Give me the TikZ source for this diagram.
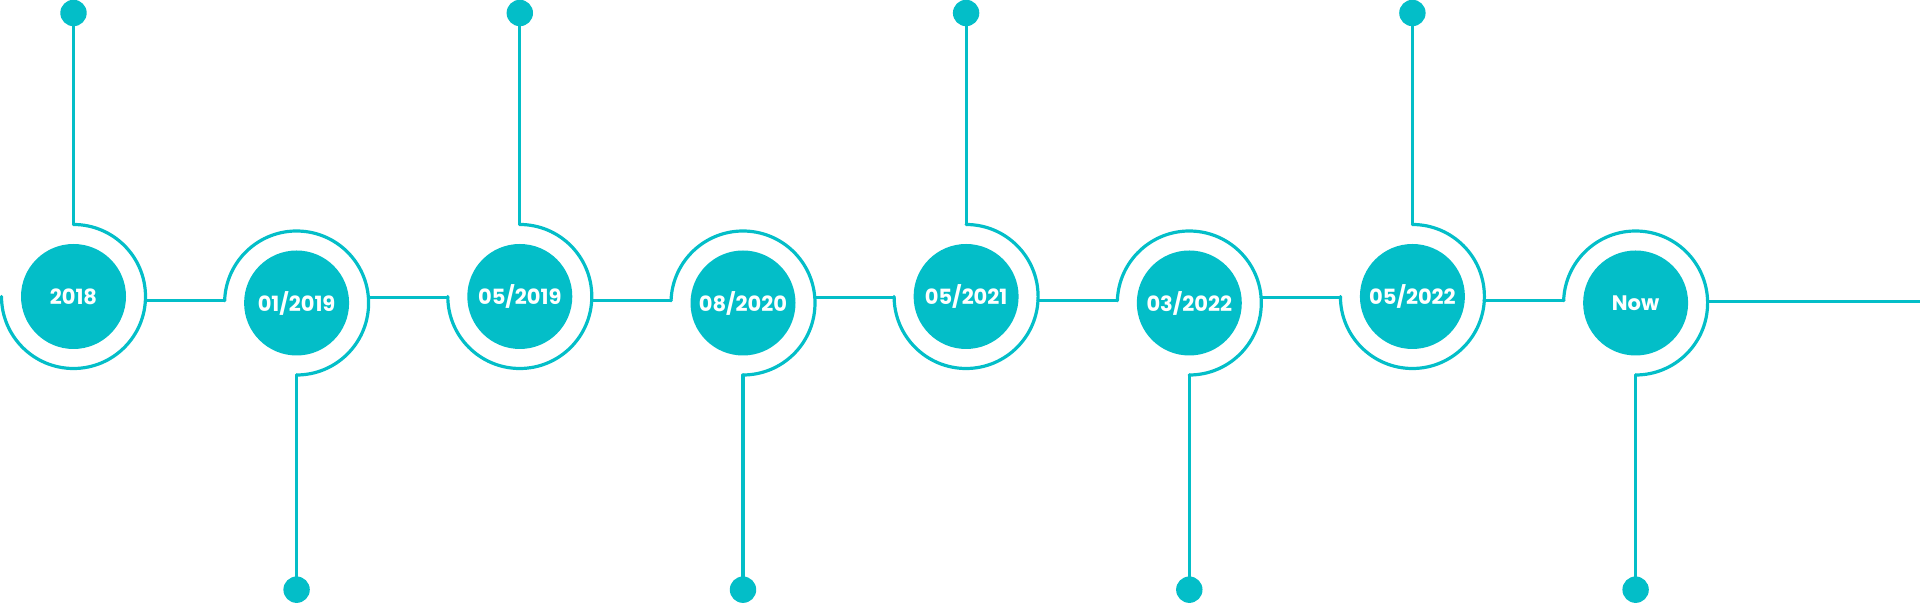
\documentclass[tikz,border=0pt]{standalone}
\usepackage{fontspec}
\setmainfont{Poppins}
\definecolor{tcol}{RGB}{3,190,200}
\begin{document}
\begin{tikzpicture}[x=0.5pt, y=0.5pt, line join=round, line cap=round,
	yr/.style={circle, fill=tcol, text=white, minimum size=52.5pt, inner sep=0pt,
		font=\bfseries\fontsize{10.5}{12}\selectfont},
	ring/.style={draw=tcol, line width=1.6pt}]
	\useasboundingbox (0,0) rectangle (1920,603);
	\node[yr] (n1) at (73.5,306.5) {2018};
	\node[yr] (n2) at (296.6,300) {01/2019};
	\node[yr] (n3) at (519.8,306.5) {05/2019};
	\node[yr] (n4) at (743,300) {08/2020};
	\node[yr] (n5) at (966.1,306.5) {05/2021};
	\node[yr] (n6) at (1189.3,300) {03/2022};
	\node[yr] (n7) at (1412.4,306.5) {05/2022};
	\node[yr] (n8) at (1635.6,300) {Now};
	% rings above
	\foreach \p in {n1,n3,n5,n7}{
		\draw[ring] (\p.center) ++(90:72) coordinate (t\p) arc[start angle=90, end angle=-180, radius=36pt];
		\fill[tcol] (t\p |- 0,590) coordinate (d\p) circle (6.6pt);
		\draw[ring] (t\p) -- (d\p);
	}
	% rings below
	\foreach \p in {n2,n4,n6,n8}{
		\draw[ring] (\p.center) ++(178.2:72) arc[start angle=178.2, end angle=-90, radius=36pt] coordinate (b\p);
		\fill[tcol] (b\p |- 0,13.3) coordinate (d\p) circle (6.6pt);
		\draw[ring] (b\p) -- (d\p);
	}
	\foreach \p/\q in {n1/n2,n3/n4,n5/n6,n7/n8}{
		\path (\p.center) ++(-3.3:72) coordinate (r\p) (\q.center) ++(178.2:72) coordinate (l\q);
		\draw[ring] (r\p) -- (r\p -| l\q);
	}
	\foreach \p/\q in {n2/n3,n4/n5,n6/n7}{
		\path (\p.center) ++(4.5:72) coordinate (r\p) (\q.center) ++(180.6:72) coordinate (l\q);
		\draw[ring] (r\p) -- (r\p -| l\q);
	}
	\path (n8.center) ++(1:72) coordinate (rn8) (1920,0) coordinate (e);
	\draw[ring] (rn8) -- (rn8 -| e);
\end{tikzpicture}
\end{document}
